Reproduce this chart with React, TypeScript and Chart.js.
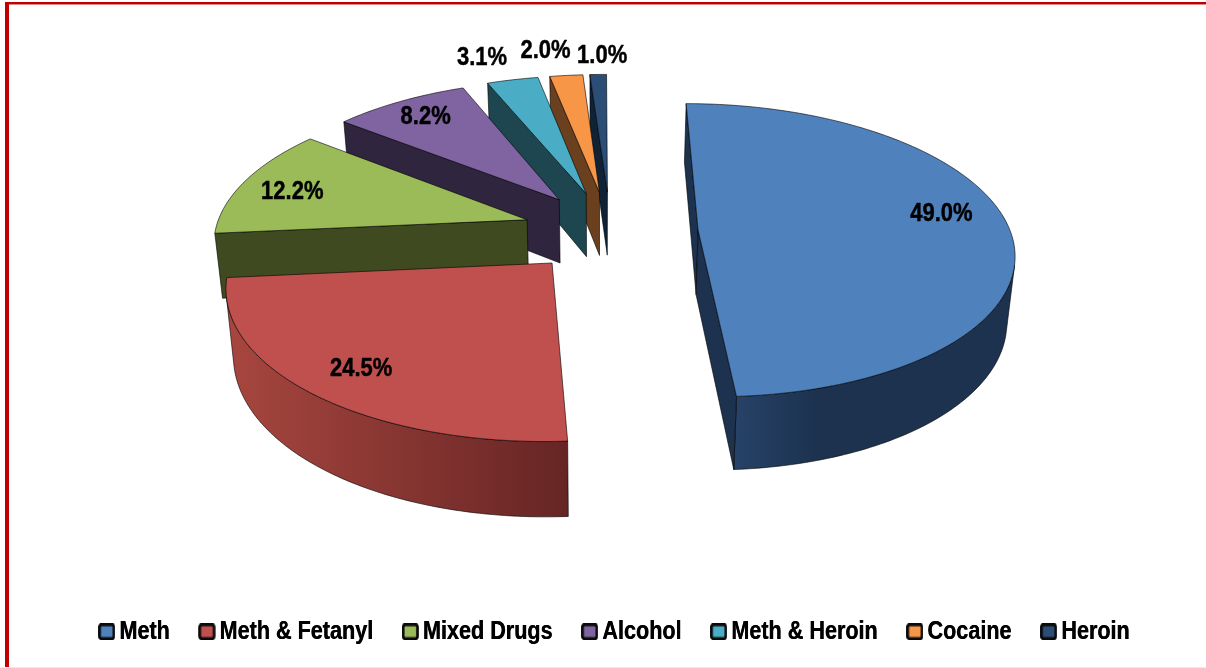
import React, { useEffect, useRef } from "react";
import { Chart, registerables } from "chart.js";

Chart.register(...registerables);

const categories = ["Meth", "Meth & Fetanyl", "Mixed Drugs", "Alcohol", "Meth & Heroin", "Cocaine", "Heroin"];
const shares = [49.0, 24.5, 12.2, 8.2, 3.1, 2.0, 1.0];

const topColors = ["#4f81bd", "#c0504d", "#9bbb59", "#8064a2", "#4bacc6", "#f79646", "#2c4d75"];
const cutColors = ["#1c324f", "#5c2220", "#3f4a20", "#30253f", "#1d4650", "#6a401f", "#0f2236"];
const wallLight = ["#2d4c75", "#a8463f", "#46522a", "#3a2d4d", "#245560", "#7a4a24", "#16304e"];
const wallDark = ["#1c324f", "#662524", "#3f4a20", "#30253f", "#1d4650", "#6a401f", "#0f2236"];

const SLICE_OFFSET = 88;
const FONT_FAMILY = '"Liberation Sans", Arial, sans-serif';
const TEXT_STRETCH_Y = 1.2;

// Position of each percent label along its slice's middle direction, as a share of the radius.
const labelRadius = [0.83, 0.84, 0.82, 0.81, 1.18, 1.2, 1.13];
const labelNudgeX = [-14, 7, -2, -2, -19, -15, 5];
const labelNudgeY = [-12, -2, 4, -2, -4, -4, -5];

// Camera of the 3D view.
const view = {
  radius: 313,
  originX: 10.5,
  originY: 6,
  vanishX: 600,
  vanishY: -810,
  horizon: 1044,
  focal: 2255,
  depth: 65,
  baseShrink: 0.98,
};

type P = { x: number; y: number };

function project(wx: number, wy: number, bottom: boolean): P {
  const t = view.focal / (view.focal + wy);
  const s = bottom ? view.baseShrink : 1;
  return {
    x: view.vanishX + wx * t * s,
    y: view.vanishY + view.horizon * t + (bottom ? view.depth * (0.2 + 0.8 * t) : 0),
  };
}

function pathOf(ctx: CanvasRenderingContext2D, pts: P[]) {
  ctx.beginPath();
  pts.forEach((p, i) => (i === 0 ? ctx.moveTo(p.x, p.y) : ctx.lineTo(p.x, p.y)));
  ctx.closePath();
}

// A side face A-B is visible when going down from it leaves the top face (which holds `inside`).
function faces(a: P, b: P, aBot: P, bBot: P, inside: P) {
  const ex = b.x - a.x;
  const ey = b.y - a.y;
  const midDown = { x: (aBot.x + bBot.x - a.x - b.x) / 2, y: (aBot.y + bBot.y - a.y - b.y) / 2 };
  const crossDown = ex * midDown.y - ey * midDown.x;
  const crossIn = ex * (inside.y - a.y) - ey * (inside.x - a.x);
  return crossDown * crossIn < 0;
}

const pie3d = {
  id: "pie3d",
  beforeDraw(chart: any) {
    const legend = chart.legend;
    if (legend && !legend.__stretched) {
      legend.__stretched = true;
      const orig = legend.draw;
      legend.draw = function (this: any) {
        const ctx = chart.ctx;
        const cy = this.top + this.height / 2;
        ctx.save();
        ctx.translate(0, cy);
        ctx.scale(1, TEXT_STRETCH_Y);
        ctx.translate(0, -cy);
        orig.call(this);
        ctx.translate(0.4, 0);
        orig.call(this);
        ctx.restore();
      };
    }
  },
  beforeDatasetDraw(chart: any) {
    const ctx: CanvasRenderingContext2D = chart.ctx;
    const arcs = chart.getDatasetMeta(0).data as any[];
    const items = arcs.map((arc, i) => {
      const a0 = arc.startAngle as number;
      const a1 = arc.endAngle as number;
      const mid = (a0 + a1) / 2;
      const off = arc.options.offset as number;
      const ax = view.originX + Math.cos(mid) * off;
      const ay = view.originY - Math.sin(mid) * off;
      return { i, a0, a1, mid, ax, ay };
    });
    const order = [...items].sort((p, q) => q.ay - p.ay);
    ctx.save();
    ctx.lineJoin = "round";
    for (const s of order) {
      const R = view.radius;
      const n = Math.max(8, Math.ceil(((s.a1 - s.a0) * 180) / Math.PI));
      const world: [number, number][] = [];
      for (let k = 0; k <= n; k++) {
        const a = s.a0 + ((s.a1 - s.a0) * k) / n;
        world.push([s.ax + Math.cos(a) * R, s.ay - Math.sin(a) * R]);
      }
      const topArc = world.map(([x, y]) => project(x, y, false));
      const botArc = world.map(([x, y]) => project(x, y, true));
      const apexTop = project(s.ax, s.ay, false);
      const apexBot = project(s.ax, s.ay, true);
      const midTop = topArc[Math.floor(n / 2)];
      const inner = { x: (apexTop.x + midTop.x) / 2, y: (apexTop.y + midTop.y) / 2 };

      ctx.strokeStyle = "rgba(0,0,0,0.75)";
      ctx.lineWidth = 0.8;

      // Outer wall: only the runs of the arc that face the viewer
      const xs = topArc.map((p) => p.x);
      const grad = ctx.createLinearGradient(Math.min(...xs), 0, Math.max(...xs), 0);
      grad.addColorStop(0, wallLight[s.i]);
      grad.addColorStop(s.i === 0 ? 0.4 : 1, wallDark[s.i]);
      let runStart = -1;
      for (let k = 0; k <= n; k++) {
        const vis = k < n && faces(topArc[k], topArc[k + 1], botArc[k], botArc[k + 1], inner);
        if (vis && runStart < 0) runStart = k;
        if (!vis && runStart >= 0) {
          const t = topArc.slice(runStart, k + 1);
          const b = botArc.slice(runStart, k + 1).reverse();
          ctx.fillStyle = grad;
          pathOf(ctx, [...t, ...b]);
          ctx.fill();
          ctx.stroke();
          runStart = -1;
        }
      }

      // Cut faces
      ctx.fillStyle = cutColors[s.i];
      if (faces(apexTop, topArc[0], apexBot, botArc[0], inner)) {
        pathOf(ctx, [apexTop, topArc[0], botArc[0], apexBot]);
        ctx.fill();
        ctx.stroke();
      }
      if (faces(apexTop, topArc[n], apexBot, botArc[n], inner)) {
        pathOf(ctx, [apexTop, topArc[n], botArc[n], apexBot]);
        ctx.fill();
        ctx.stroke();
      }

      // Top face
      ctx.fillStyle = topColors[s.i];
      pathOf(ctx, [apexTop, ...topArc]);
      ctx.fill();
      ctx.stroke();
    }

    // Percent labels
    ctx.fillStyle = "#000";
    ctx.strokeStyle = "#000";
    ctx.lineWidth = 0.4;
    ctx.font = `bold 22px ${FONT_FAMILY}`;
    ctx.textAlign = "center";
    ctx.textBaseline = "middle";
    for (const s of items) {
      const r = view.radius * labelRadius[s.i];
      const p = project(s.ax + Math.cos(s.mid) * r, s.ay - Math.sin(s.mid) * r, false);
      ctx.save();
      ctx.translate(p.x + labelNudgeX[s.i], p.y + labelNudgeY[s.i]);
      ctx.scale(1, TEXT_STRETCH_Y);
      const label = `${shares[s.i].toFixed(1)}%`;
      ctx.fillText(label, 0, 0);
      ctx.strokeText(label, 0, 0);
      ctx.restore();
    }
    ctx.restore();
    return false;
  },
};

function marker(color: string) {
  const c = document.createElement("canvas");
  c.width = 17;
  c.height = 14;
  const g = c.getContext("2d")!;
  g.fillStyle = color;
  g.strokeStyle = "#0a0a0a";
  g.lineWidth = 2.4;
  g.beginPath();
  g.roundRect(1.4, 1.3, 14, 11.4, 2);
  g.fill();
  g.stroke();
  return c;
}

export default function App() {
  const ref = useRef<HTMLCanvasElement>(null);
  useEffect(() => {
    const chart = new Chart(ref.current!, {
      type: "pie",
      data: {
        labels: categories,
        datasets: [
          {
            data: shares,
            backgroundColor: topColors,
            borderColor: "#000",
            borderWidth: 1,
            offset: SLICE_OFFSET,
          },
        ],
      },
      options: {
        responsive: false,
        animation: false,
        events: [],
        layout: { padding: { left: 28, bottom: 18 } },
        plugins: {
          tooltip: { enabled: false },
          legend: {
            display: true,
            position: "bottom",
            labels: {
              color: "#000",
              font: { family: FONT_FAMILY, size: 21.6, weight: "bold" },
              usePointStyle: true,
              pointStyleWidth: 4,
              boxHeight: 17,
              padding: 35,
              generateLabels: () =>
                categories.map((text, i) => ({
                  text,
                  index: i,
                  fillStyle: topColors[i],
                  strokeStyle: "#000",
                  lineWidth: 0,
                  hidden: false,
                  pointStyle: marker(topColors[i]),
                })),
            },
          },
        },
      } as any,
      plugins: [pie3d as any],
    });
    return () => chart.destroy();
  }, []);
  return (
    <div style={{ position: "fixed", left: 0, top: 0, width: 1206, height: 668, background: "#fff", overflow: "hidden" }}>
      <canvas ref={ref} width={1206} height={668} style={{ display: "block" }} />
      <div style={{ position: "absolute", left: 5, top: 2, right: 0, height: 2, background: "#c00000" }} />
      <div style={{ position: "absolute", left: 5, top: 4, right: 0, height: 1, background: "#e08a8a" }} />
      <div style={{ position: "absolute", left: 5, top: 2, bottom: 0, width: 4, background: "#c00000" }} />
      <div style={{ position: "absolute", left: 0, bottom: 0, right: 0, height: 1, background: "#f8e6ee" }} />
    </div>
  );
}
